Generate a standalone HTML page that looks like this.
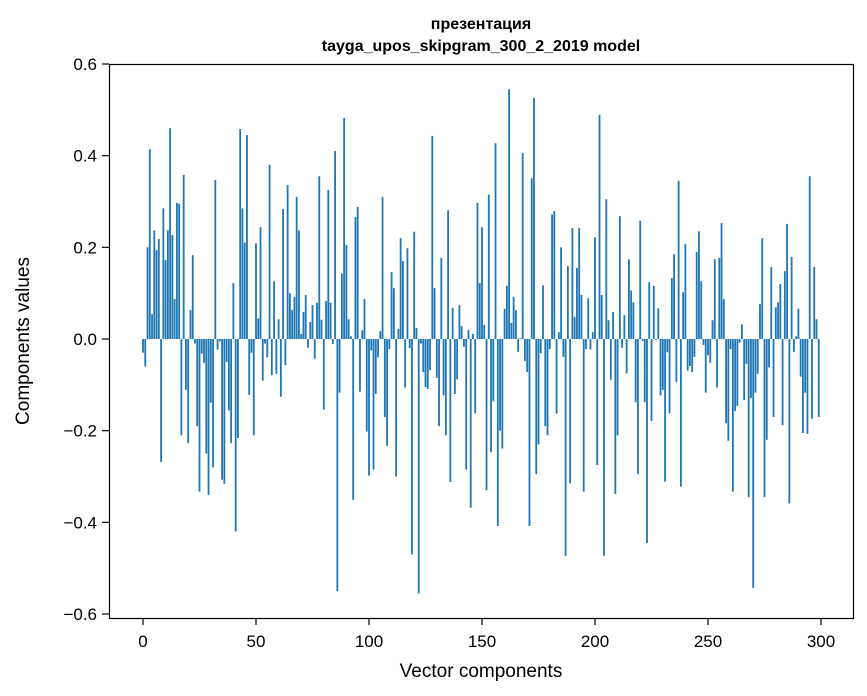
<!DOCTYPE html>
<html><head><meta charset="utf-8"><style>
html,body{margin:0;padding:0;background:#fff;}
svg{display:block;font-family:"Liberation Sans","DejaVu Sans",sans-serif;}
</style></head><body>
<svg id="chart" width="867" height="696" viewBox="0 0 867 696">
<text x="481" y="29" text-anchor="middle" font-size="16" font-weight="bold">презентация</text>
<text x="481" y="51" text-anchor="middle" font-size="16" font-weight="bold">tayga_upos_skipgram_300_2_2019 model</text>
<g id="bars"></g>
<g id="xticks"></g>
<g id="yticks"></g>
<rect x="109.5" y="64.5" width="744" height="554" fill="none" stroke="#000" stroke-width="1.2"/>
<text x="481" y="677" text-anchor="middle" font-size="19">Vector components</text>
<text x="0" y="0" transform="translate(29,341) rotate(-90)" text-anchor="middle" font-size="19">Components values</text>
</svg>
<script>
const values = [
-0.03,-0.06,0.20,0.414,0.054,0.237,0.194,0.218,-0.268,0.285,
0.172,0.237,0.46,0.227,0.087,0.297,0.295,-0.21,0.358,-0.111,
-0.227,0.063,0.183,-0.01,-0.19,-0.333,-0.032,-0.052,-0.25,-0.34,
-0.139,-0.28,0.347,-0.023,-0.005,-0.307,-0.316,-0.05,-0.156,-0.227,
0.122,-0.42,-0.216,0.458,0.285,0.21,0.445,-0.122,-0.03,-0.21,
0.209,0.045,0.244,-0.091,-0.01,-0.04,0.38,-0.079,0.126,-0.076,
0.043,-0.126,0.284,-0.057,0.336,0.10,0.063,0.092,0.31,0.237,
0.011,0.059,0.096,-0.019,0.037,0.074,-0.043,0.079,0.355,0.042,
-0.154,0.083,0.325,0.079,-0.011,0.41,-0.55,-0.117,0.143,0.482,
0.205,0.043,0.006,-0.351,0.266,0.288,-0.115,0.019,0.087,-0.202,
-0.298,-0.025,-0.285,-0.12,-0.04,0.017,0.31,-0.17,-0.233,-0.022,
0.146,0.111,-0.30,0.022,0.22,0.17,-0.106,0.198,-0.02,-0.47,
0.234,0.024,-0.555,-0.01,-0.072,-0.105,-0.109,-0.068,0.443,0.111,
-0.085,-0.19,0.177,-0.123,-0.21,0.281,-0.312,0.068,-0.12,-0.088,
0.074,0.028,-0.017,-0.285,0.02,-0.368,0.011,-0.162,0.297,0.122,
0.244,0.031,-0.33,0.315,-0.247,-0.136,0.427,-0.408,-0.2,-0.239,
0.066,0.116,0.545,0.035,0.092,0.063,-0.028,0.002,0.406,-0.048,
-0.072,-0.408,0.351,0.526,-0.295,-0.23,-0.031,0.117,-0.19,-0.21,
-0.022,0.272,0.279,-0.163,0.015,0.20,-0.039,-0.473,0.159,-0.315,
0.242,0.048,0.155,0.242,0.096,-0.333,-0.022,0.089,-0.023,0.015,
0.222,-0.275,0.489,0.096,-0.473,0.305,0.041,-0.089,0.059,-0.338,
-0.21,0.268,-0.019,0.052,-0.075,0.174,0.106,0.08,-0.138,-0.295,
0.258,-0.004,-0.138,-0.445,0.124,-0.179,0.116,-0.002,0.067,-0.123,
-0.111,-0.311,-0.029,-0.162,0.133,0.185,-0.094,0.345,-0.322,0.102,
0.207,-0.069,-0.059,-0.072,-0.039,0.19,0.235,0.126,-0.013,-0.117,
-0.036,-0.052,0.041,0.174,-0.106,0.177,0.253,0.087,-0.184,-0.222,
-0.022,-0.333,-0.157,-0.146,-0.008,0.032,-0.133,-0.054,-0.345,-0.129,
-0.543,-0.117,-0.076,0.076,0.22,-0.345,-0.22,-0.062,0.157,-0.17,
0.069,0.08,0.12,-0.188,0.148,0.251,-0.359,0.179,-0.028,0.006,
0.066,-0.082,-0.205,-0.117,-0.207,0.355,-0.174,0.157,0.043,-0.17
];
const xTicks = [0,50,100,150,200,250,300];
const yTicks = [-0.6,-0.4,-0.2,0,0.2,0.4,0.6];
const yTickLabels = ["−0.6","−0.4","−0.2","0.0","0.2","0.4","0.6"];

const NS = "http://www.w3.org/2000/svg";
function xScale(i){ return 143 + i * 2.26; }
function yScale(v){ return 339 - v * 458.33; }

const barsG = document.getElementById("bars");
values.forEach((v, i) => {
  const r = document.createElementNS(NS, "rect");
  const w = 1.81;
  const y0 = yScale(0), y1 = yScale(v);
  r.setAttribute("x", xScale(i) - w/2);
  r.setAttribute("y", Math.min(y0, y1));
  r.setAttribute("width", w);
  r.setAttribute("height", Math.abs(y1 - y0));
  r.setAttribute("fill", "#1f77b4");
  
  
  barsG.appendChild(r);
});

const xg = document.getElementById("xticks");
xTicks.forEach(t => {
  const x = xScale(t);
  const l = document.createElementNS(NS, "line");
  l.setAttribute("x1", x); l.setAttribute("x2", x);
  l.setAttribute("y1", 618); l.setAttribute("y2", 625);
  l.setAttribute("stroke", "#000"); l.setAttribute("stroke-width", "1.2");
  
  
  xg.appendChild(l);
  const tx = document.createElementNS(NS, "text");
  tx.setAttribute("x", x); tx.setAttribute("y", 647);
  tx.setAttribute("text-anchor", "middle"); tx.setAttribute("font-size", "17");
  tx.textContent = String(t);
  
  
  xg.appendChild(tx);
});

const yg = document.getElementById("yticks");
yTicks.forEach((t, k) => {
  const y = yScale(t);
  const l = document.createElementNS(NS, "line");
  l.setAttribute("x1", 102); l.setAttribute("x2", 109);
  l.setAttribute("y1", y); l.setAttribute("y2", y);
  l.setAttribute("stroke", "#000"); l.setAttribute("stroke-width", "1.2");
  
  
  yg.appendChild(l);
  const tx = document.createElementNS(NS, "text");
  tx.setAttribute("x", 97); tx.setAttribute("y", y + 6);
  tx.setAttribute("text-anchor", "end"); tx.setAttribute("font-size", "17");
  tx.textContent = yTickLabels[k];
  
  
  yg.appendChild(tx);
});
</script>
</body></html>
